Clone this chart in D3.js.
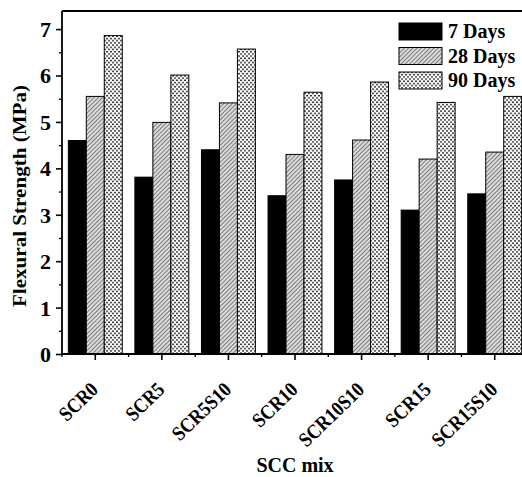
<!DOCTYPE html>
<html><head><meta charset="utf-8">
<script src="https://cdn.jsdelivr.net/npm/d3@7"></script>
<style>html,body{margin:0;padding:0;background:#fff;overflow:hidden}</style>
</head><body>
<script>
const categories = ["SCR0","SCR5","SCR5S10","SCR10","SCR10S10","SCR15","SCR15S10"];
const seriesNames = ["7 Days","28 Days","90 Days"];
const days7  = [4.60, 3.81, 4.40, 3.41, 3.75, 3.10, 3.45];
const days28 = [5.55, 4.99, 5.41, 4.30, 4.61, 4.20, 4.35];
const days90 = [6.86, 6.01, 6.57, 5.64, 5.86, 5.42, 5.55];
const yTicks = [0,1,2,3,4,5,6,7];
const seriesValues = [days7, days28, days90];

(function(){
const W = 522, H = 477;
const svg = d3.select("body").append("svg").attr("width", W).attr("height", H);
const defs = svg.append("defs");
// hatch pattern
const hp = defs.append("pattern").attr("id","hatch").attr("patternUnits","userSpaceOnUse")
  .attr("width",3).attr("height",3).attr("patternTransform","rotate(45)");
hp.append("rect").attr("width",3).attr("height",3).attr("fill","#dcdcdc");
hp.append("line").attr("x1",0).attr("y1",0).attr("x2",0).attr("y2",3).attr("stroke","#3a3a3a").attr("stroke-width",1.2);
// dot pattern
const dp = defs.append("pattern").attr("id","dots").attr("patternUnits","userSpaceOnUse")
  .attr("width",4).attr("height",4.4);
dp.append("rect").attr("width",4).attr("height",4.4).attr("fill","#fff");
dp.append("circle").attr("cx",1).attr("cy",1.1).attr("r",0.95).attr("fill","#111");
dp.append("circle").attr("cx",3).attr("cy",3.3).attr("r",0.95).attr("fill","#111");
const fills = ["#000","url(#hatch)","url(#dots)"];

const mLeft = 62, mTop = 11, mBottom = 354, mRight = 528;
const x = d3.scaleBand().domain(categories).range([mLeft, mRight]).paddingInner(0.19).paddingOuter(0.095);
const xs = d3.scaleBand().domain(seriesNames).range([0, x.bandwidth()]);
const y = d3.scaleLinear().domain([0, 7.39]).range([mBottom, mTop]);

const font = "'Liberation Serif','Times New Roman',serif";

// bars
categories.forEach((c, i) => {
  seriesNames.forEach((s, j) => {
    svg.append("rect")
      .attr("x", x(c) + xs(s)).attr("width", xs.bandwidth())
      .attr("y", y(seriesValues[j][i])).attr("height", y(0) - y(seriesValues[j][i]))
      .attr("fill", fills[j]).attr("stroke", "#000").attr("stroke-width", 1);
  });
});

// frame top & right
svg.append("line").attr("x1",mLeft).attr("x2",mRight).attr("y1",mTop).attr("y2",mTop).attr("stroke","#000").attr("stroke-width",1.8);
svg.append("line").attr("x1",mRight).attr("x2",mRight).attr("y1",mTop).attr("y2",mBottom).attr("stroke","#000").attr("stroke-width",1.8);

// y axis
const yAxis = svg.append("g").attr("transform", `translate(${mLeft},0)`)
  .call(d3.axisLeft(y).tickValues(yTicks).tickFormat(d3.format("d")).tickSize(6).tickPadding(5));
yAxis.selectAll(".tick text").attr("font-family", font).attr("font-weight","bold").attr("font-size", 22).attr("fill","#000").attr("dy","0.34em");
yAxis.select(".domain").attr("d", `M0,${mBottom}V${mTop}`).attr("stroke-width",1.8);
yAxis.selectAll(".tick line").attr("stroke-width",1.6);
const yMinor = svg.append("g").attr("transform", `translate(${mLeft},0)`)
  .call(d3.axisLeft(y).tickValues(d3.range(0.5,7.4,1)).tickFormat("").tickSize(3));
yMinor.select(".domain").remove();
yMinor.selectAll(".tick line").attr("stroke-width",1.3);

// x axis
const xAxis = svg.append("g").attr("transform", `translate(0,${mBottom})`)
  .call(d3.axisBottom(x).tickSize(6).tickPadding(0));
xAxis.select(".domain").attr("d", `M${mLeft},0H${mRight}`).attr("stroke-width",1.8);
xAxis.selectAll(".tick line").attr("stroke-width",1.6);
xAxis.selectAll(".tick text")
  .attr("font-family", font).attr("font-weight","bold").attr("font-size", 20.5).attr("fill","#000")
  .attr("text-anchor","end").attr("x",0).attr("y",0).attr("dy", 0).attr("dx",0)
  .attr("transform","translate(4,37) rotate(-44)")
  .each(function(){
    const L = this.getComputedTextLength();
    d3.select(this).attr("textLength", L * 0.88).attr("lengthAdjust","spacingAndGlyphs");
  });
const minorX = categories.map(c => x(c) - x.step()*x.paddingInner()/2).concat([mRight]);
svg.append("g").selectAll("line").data(minorX).join("line")
  .attr("x1", d => d).attr("x2", d => d).attr("y1", mBottom).attr("y2", mBottom + 3)
  .attr("stroke","#000").attr("stroke-width",1.3);

// axis titles
svg.append("text").attr("transform", `translate(26,196) rotate(-90)`)
  .attr("text-anchor","middle").attr("font-family",font).attr("font-weight","bold").attr("font-size",19)
  .attr("textLength",222).attr("lengthAdjust","spacingAndGlyphs")
  .text("Flexural Strength (MPa)");
svg.append("text").attr("x", 295).attr("y", 472).attr("text-anchor","middle")
  .attr("font-family",font).attr("font-weight","bold").attr("font-size",20).text("SCC mix");

// legend
const lg = svg.append("g").attr("transform","translate(399,23)");
seriesNames.forEach((s, j) => {
  lg.append("rect").attr("x",0).attr("y", j*24.5).attr("width",43).attr("height",17)
    .attr("fill", fills[j]).attr("stroke","#000").attr("stroke-width",1);
  lg.append("text").attr("x",49).attr("y", j*24.5 + 15).attr("font-family",font)
    .attr("font-weight","bold").attr("font-size",20).text(s);
});
})();
</script>
</body></html>
